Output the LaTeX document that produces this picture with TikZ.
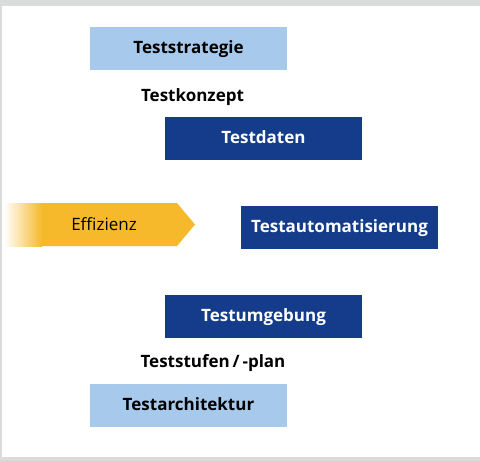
\documentclass[tikz,border=0pt]{standalone}
\usepackage{fontspec}
\setmainfont{Open Sans}
\definecolor{lightblue}{HTML}{A6C9EC}
\definecolor{darkblue}{HTML}{143C8A}
\definecolor{effcol}{HTML}{F6B92B}
\definecolor{framegray}{HTML}{DADBDB}
\begin{document}
\begin{tikzpicture}[x=1pt,y=-1pt,
  boxfont/.style={font=\bfseries\fontsize{17}{20}\selectfont,text height=12.5pt,text depth=2.5pt},
  lightbox/.style={fill=lightblue,minimum width=197pt,minimum height=43pt,inner sep=0pt,boxfont,text=black},
  darkbox/.style={fill=darkblue,minimum width=197pt,minimum height=43pt,inner sep=0pt,boxfont,text=white},
  plainlabel/.style={inner sep=0pt,boxfont,text=black}]
\fill[framegray] (0,0) rectangle (480,461);
\fill[white] (2,6) rectangle (480,457);
\useasboundingbox (0,0) rectangle (480,461);
% Effizienz arrow
\fill[effcol] (41,203) -- (177,203) -- (195,224.5) -- (177,246) -- (41,246) -- cycle;
\shade[left color=white,right color=effcol] (4,203) rectangle (42,246);
\node[inner sep=0pt,font=\fontsize{17}{20}\selectfont,text height=12.5pt,text depth=2.5pt] (eff) at (104,225) {Effizienz};
% boxes
\node[lightbox] (strat) at (188.5,48.5) {Teststrategie};
\node[plainlabel] (konz) at (192.5,96) {Testkonzept};
\node[darkbox] (daten) at (263.5,138.5) {Testdaten};
\node[darkbox] (auto) at (339.5,227.5) {Testautomatisierung};
\node[darkbox] (umg) at (263.5,316.5) {Testumgebung};
\node[plainlabel] (stufen) at (213,362) {Teststufen\,/\,-plan};
\node[lightbox] (arch) at (188.5,405.5) {Testarchitektur};
\end{tikzpicture}
\end{document}
